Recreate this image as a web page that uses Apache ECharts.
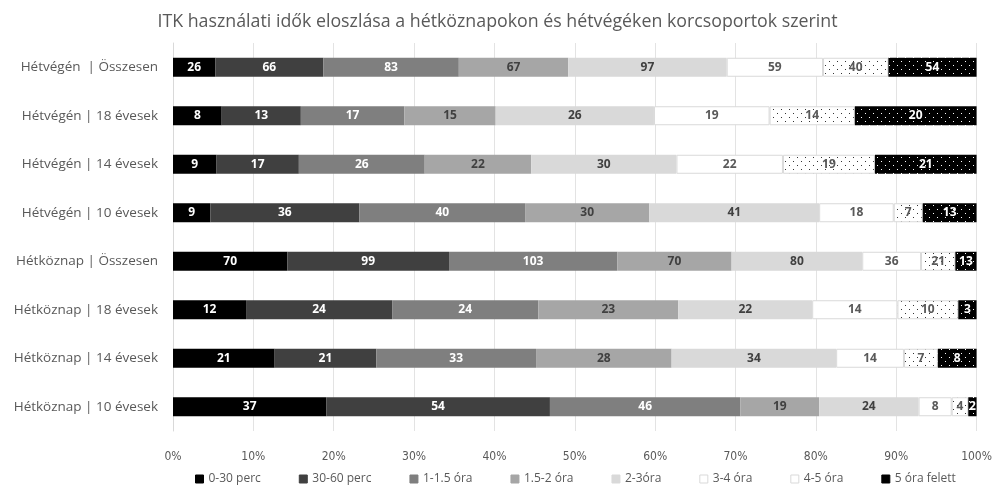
<!DOCTYPE html>
<html>
<head>
<meta charset="utf-8">
<script src="https://cdn.jsdelivr.net/npm/echarts@6/dist/echarts.min.js"></script>
<style>
  html, body { margin: 0; padding: 0; background: #fff; }
  #chart { width: 995px; height: 492px; }
</style>
</head>
<body>
<div id="chart"></div>
<script>
// Categories, top to bottom
const categories = [
  'Hétvégén  | Összesen',
  'Hétvégén | 18 évesek',
  'Hétvégén | 14 évesek',
  'Hétvégén | 10 évesek',
  'Hétköznap | Összesen',
  'Hétköznap | 18 évesek',
  'Hétköznap | 14 évesek',
  'Hétköznap | 10 évesek'
];

const seriesNames = ['0-30 perc', '30-60 perc', '1-1.5 óra', '1.5-2 óra', '2-3óra', '3-4 óra', '4-5 óra', '5 óra felett'];

// Counts per usage-time band, one array per band, in category order
const v0_30 = [26, 8, 9, 9, 70, 12, 21, 37];
const v30_60 = [66, 13, 17, 36, 99, 24, 21, 54];
const v1_15 = [83, 17, 26, 40, 103, 24, 33, 46];
const v15_2 = [67, 15, 22, 30, 70, 23, 28, 19];
const v2_3 = [97, 26, 30, 41, 80, 22, 34, 24];
const v3_4 = [59, 19, 22, 18, 36, 14, 14, 8];
const v4_5 = [40, 14, 19, 7, 21, 10, 7, 4];
const v5plus = [54, 20, 21, 13, 13, 3, 8, 2];

const xTicks = ['0%', '10%', '20%', '30%', '40%', '50%', '60%', '70%', '80%', '90%', '100%'];

const values = [v0_30, v30_60, v1_15, v15_2, v2_3, v3_4, v4_5, v5plus];
const totals = categories.map((_, i) => values.reduce((s, arr) => s + arr[i], 0));

// Dotted fills
function dotPattern(bg, dot) {
  const c = document.createElement('canvas');
  c.width = 8; c.height = 8;
  const g = c.getContext('2d');
  g.fillStyle = bg; g.fillRect(0, 0, 8, 8);
  g.fillStyle = dot;
  g.fillRect(1, 1, 1, 1);
  g.fillRect(5, 5, 1, 1);
  return { image: c, repeat: 'repeat' };
}

const fills = ['#000000', '#404040', '#7f7f7f', '#a6a6a6', '#d9d9d9', '#ffffff',
  dotPattern('#ffffff', '#333333'), dotPattern('#000000', '#ffffff')];
const legendFills = ['#000000', '#404040', '#7f7f7f', '#a6a6a6', '#d9d9d9', '#ffffff', '#ffffff', '#000000'];
const labelColors = ['#ffffff', '#ffffff', '#ffffff', '#404040', '#404040', '#595959', '#595959', '#ffffff'];
const borders = [null, null, null, null, null, '#d9d9d9', '#d9d9d9', null];

const narrow = '"Liberation Sans Narrow", "DejaVu Sans Condensed", sans-serif';
const wide = '"Open Sans", "Noto Sans", sans-serif';

const series = values.map((arr, k) => ({
  name: seriesNames[k],
  type: 'bar',
  stack: 'total',
  barWidth: 19,
  data: arr.map((v, i) => ({ value: v / totals[i] * 100, raw: v })),
  itemStyle: {
    color: fills[k],
    borderColor: borders[k] || 'transparent',
    borderWidth: borders[k] ? 1 : 0
  },
  label: {
    show: true,
    position: 'inside',
    color: labelColors[k],
    fontFamily: wide,
    fontSize: 12,
    fontWeight: 'bold',
    formatter: p => p.data.raw
  },
  emphasis: { disabled: true }
}));

const chart = echarts.init(document.getElementById('chart'), null, { renderer: 'canvas' });
chart.setOption({
  animation: false,
  backgroundColor: '#ffffff',
  title: {
    text: 'ITK használati idők eloszlása a hétköznapokon és hétvégéken korcsoportok szerint',
    left: 'center',
    top: 8,
    textStyle: { fontFamily: wide, fontSize: 17.8, fontWeight: 'normal', color: '#595959' }
  },
  legend: {
    bottom: 2,
    left: 190,
    itemWidth: 8,
    itemHeight: 8,
    itemGap: 38,
    icon: 'rect',
    textStyle: { fontFamily: wide, fontSize: 12, color: '#595959' },
    data: seriesNames.map((n, k) => ({
      name: n,
      itemStyle: { color: legendFills[k], borderColor: borders[k] || legendFills[k], borderWidth: 1 }
    }))
  },
  grid: { left: 173, right: 17, top: 43, bottom: 61, containLabel: false },
  xAxis: {
    type: 'value',
    min: 0,
    max: 100,
    interval: 10,
    axisLine: { show: false },
    axisTick: { show: false },
    splitLine: { show: true, lineStyle: { color: '#e3e3e3', width: 1 } },
    axisLabel: {
      margin: 20,
      color: '#595959',
      fontFamily: narrow,
      fontSize: 12,
      formatter: v => xTicks[Math.round(v / 10)]
    }
  },
  yAxis: {
    type: 'category',
    inverse: true,
    data: categories,
    axisLine: { show: true, lineStyle: { color: '#d9d9d9', width: 1 } },
    axisTick: { show: false },
    axisLabel: { margin: 15, color: '#595959', fontFamily: wide, fontSize: 13.5 }
  },
  series: series
});
</script>
</body>
</html>
